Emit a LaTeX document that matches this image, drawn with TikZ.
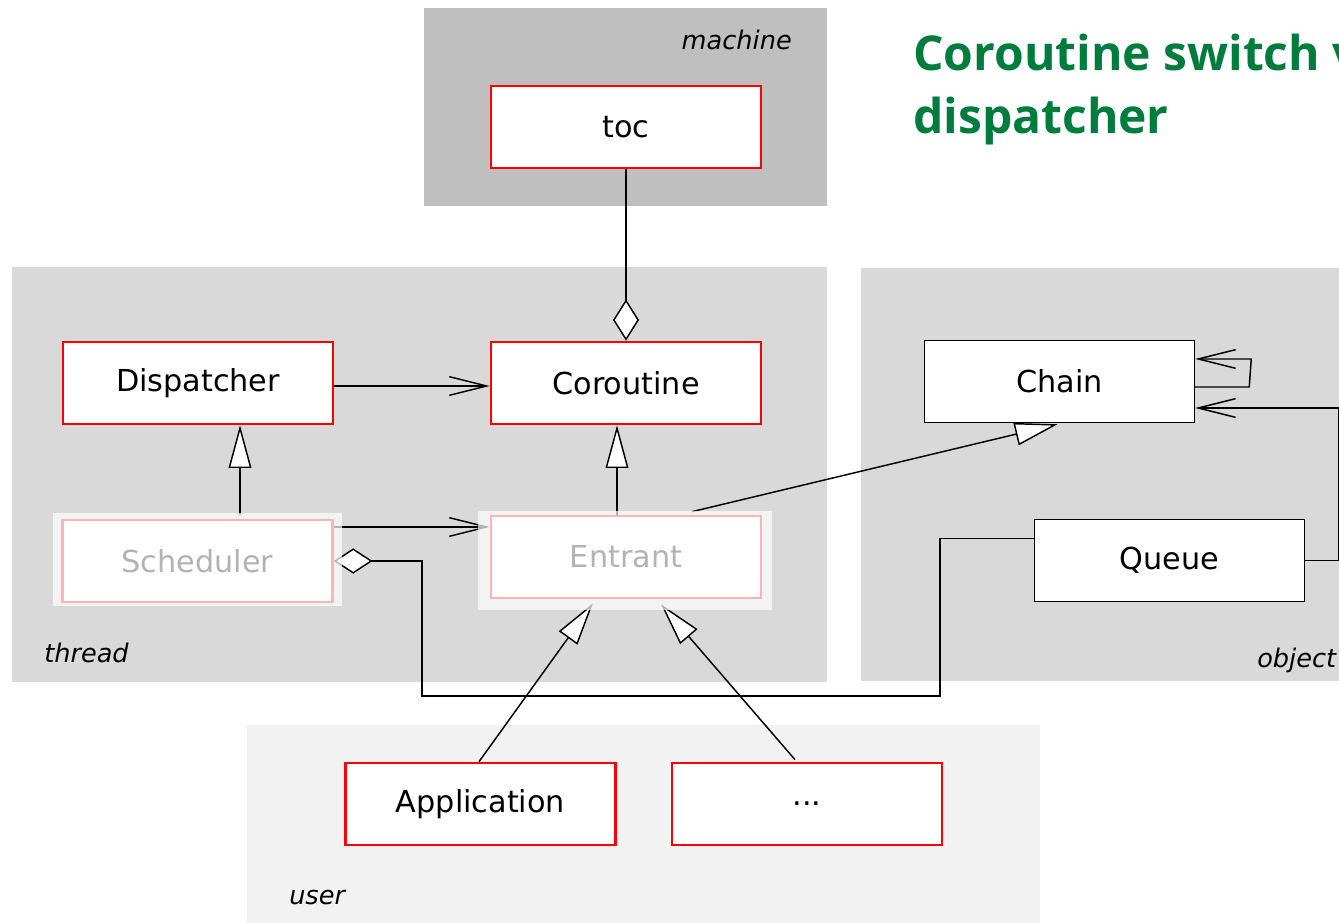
\documentclass[tikz,border=0pt]{standalone}
\usepackage{fontspec}
\setmainfont{DejaVu Sans}
\newfontfamily\titlefont{Open Sans}
\usetikzlibrary{arrows.meta,calc}
\definecolor{regdark}{RGB}{191,191,191}
\definecolor{reglight}{RGB}{217,217,217}
\definecolor{reguser}{RGB}{242,242,242}
\definecolor{titlegreen}{RGB}{0,125,61}
\definecolor{boxred}{RGB}{255,0,0}
\begin{document}
\begin{tikzpicture}[x=0.75pt,y=-0.75pt,
  redbox/.style={draw=boxred, line width=2pt, fill=white, minimum width=202.5pt, minimum height=61.5pt, inner sep=0pt, font=\fontsize{22.7}{27}\selectfont},
  blackbox/.style={redbox, draw=black, line width=1.1pt},
  conn/.style={draw=black, line width=1.1pt},
  openarrow/.style={conn, -{Straight Barb[length=28pt,width=14pt]}},
  inherit/.style={conn, -{Triangle[fill=white,length=32pt,width=17pt]}},
  aggrend/.style={conn, -{Diamond[fill=white,length=31pt,width=19.5pt]}},
  aggrstart/.style={conn, {Diamond[fill=white,length=29pt,width=19pt]}-},
  regionlabel/.style={font=\fontsize{19.2}{23}\selectfont\itshape, inner sep=0pt},
  fade/.style={fill=white, fill opacity=0.7, draw=none},
  titletext/.style={font=\titlefont\bfseries\fontsize{36}{45}\selectfont, text=titlegreen, inner sep=0pt, anchor=base west}
]
\useasboundingbox (0,0) rectangle (1339,923);
\clip (0,0) rectangle (1339,923);
% regions
\fill[regdark] (424,8) rectangle (827,206);
\fill[reglight] (12,267) rectangle (827,682);
\fill[reglight] (861,268) rectangle (1345,681);
\fill[reguser] (247,725) rectangle (1040,923);
% boxes
\node[redbox] (toc) at (626,127) {toc};
\node[redbox] (disp) at (198,383) {Dispatcher};
\node[redbox] (cor) at (626,383) {Coroutine};
\node[redbox] (sched) at (197.5,561) {Scheduler};
\node[redbox] (ent) at (626,557) {Entrant};
\node[blackbox] (chain) at (1059.5,381.5) {Chain};
\node[blackbox] (queue) at (1169.5,560.5) {Queue};
\node[redbox] (app) at (480.5,804) {Application};
\node[redbox] (dots) at (807,804) {...};
% helper coordinates
\coordinate (entA) at ($(ent.west)+(0,-30)$);
\coordinate (bendA) at (422,696);
\coordinate (bendB) at (940,696);
\coordinate (queueIn) at ($(queue.west)+(0,-22)$);
\coordinate (loopA) at ($(chain.east)+(54,5.5)$);
\coordinate (loopB) at ($(chain.east)+(56,-22.5)$);
\coordinate (queueOut) at ($(queue.east)+(33,0)$);
% connectors
\draw[aggrend] (toc.south) -- (cor.north);
\draw[openarrow] ($(disp.east)+(0,3)$) -- ($(cor.west)+(0,3)$);
\draw[inherit] ($(sched.north)+(42.5,-4)$) -- ($(disp.south)+(42,0)$);
\draw[inherit] ($(ent.north)+(-9,1)$) -- ($(cor.south)+(-9,0)$);
\draw[openarrow] (sched.east |- entA) -- (entA);
\draw[inherit] ($(ent.north)+(66,-3)$) -- ($(chain.south)+(-2,1)$);
\draw[inherit] ($(app.north)+(-1.5,0)$) -- ($(ent.south)+(-33,4)$);
\draw[inherit] ($(dots.north)+(-12,-2)$) -- ($(ent.south)+(35,5)$);
\draw[aggrstart] (sched.east) -| (bendA) -- (bendB) |- (queueIn);
\draw[openarrow] ($(chain.east)+(0,5.5)$) -- (loopA) -- (loopB) -- ($(chain.east)+(0,-22.5)$);
\draw[openarrow] (queue.east) -- (queueOut) |- ($(chain.east)+(0,26.5)$);
% faded overlays
\fill[fade] (53,513) rectangle (342,606);
\fill[fade] (478,511) rectangle (772,610);
% labels
\node[regionlabel, anchor=base east] (lblmachine) at (792,50) {machine};
\node[regionlabel, anchor=base west] (lblthread) at (44,662) {thread};
\node[regionlabel, anchor=base west] (lblobject) at (1257,667) {object};
\node[regionlabel, anchor=base west] (lbluser) at (289,904) {user};
\node[titletext] (title1) at (913,71) {Coroutine switch via};
\node[titletext] (title2) at (913,134) {dispatcher};
\end{tikzpicture}
\end{document}
